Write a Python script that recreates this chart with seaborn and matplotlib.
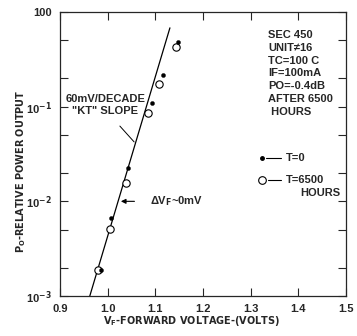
"""
plot.py
-------
Relative power output vs forward voltage (SEC 450, unit 16), before and after 6500 h.
"""

import matplotlib
matplotlib.use("Agg")
import matplotlib.pyplot as plt
import matplotlib.ticker as mticker
import pandas as pd
import seaborn as sns

sns.set_style("ticks")
plt.rcParams["font.family"] = ["Liberation Sans", "DejaVu Sans"]
plt.rcParams["font.weight"] = "bold"
plt.rcParams["mathtext.default"] = "bf"

# ── Data ──────────────────────────────────────────────────
vf_t0 = [0.985, 1.008, 1.042, 1.092, 1.117, 1.147]
po_t0 = [0.0019, 0.0067, 0.0224, 0.109, 0.216, 0.48]

vf_6500 = [0.979, 1.004, 1.0375, 1.085, 1.108, 1.144]
po_6500 = [0.0019, 0.0051, 0.0156, 0.086, 0.174, 0.43]

# 60 mV/decade "kT" slope line end points
slope_vf = [0.9625, 1.1306]
slope_po = [0.001, 0.68]

x_ticks = [0.9, 1.0, 1.1, 1.2, 1.3, 1.4, 1.5]
y_ticks = [1e-3, 1e-2, 1e-1, 1]
y_tick_labels = ["10$^{-3}$", "10$^{-2}$", "10$^{-1}$", "100"]

info_lines = ["SEC 450", "UNIT\u226016", "TC=100 C", "IF=100mA",
              "PO=-0.4dB", "AFTER 6500", " HOURS"]

t0 = pd.DataFrame({"vf": vf_t0, "po": po_t0})
t6500 = pd.DataFrame({"vf": vf_6500, "po": po_6500})
slope = pd.DataFrame({"vf": slope_vf, "po": slope_po})

# ── Figure ────────────────────────────────────────────────
W, H = 357, 336
fig = plt.figure(figsize=(W / 100, H / 100), dpi=100)
ax = fig.add_axes([60 / W, 1 - 296 / H, 286 / W, 284 / H])


def px(x, y):
    return x / W, 1 - y / H


sns.lineplot(data=slope, x="vf", y="po", ax=ax, color="black", lw=0.9)
sns.scatterplot(data=t6500, x="vf", y="po", ax=ax, marker="o", s=28,
                facecolor="white", edgecolor="black", linewidth=0.8, zorder=3)
sns.scatterplot(data=t0, x="vf", y="po", ax=ax, marker="o", s=9,
                color="black", edgecolor="black", zorder=4)

ax.set_yscale("log")
ax.set_xlim(0.9, 1.5)
ax.set_ylim(1e-3, 1)
ax.set_xticks(x_ticks)
ax.set_xticklabels([f"{v:.1f}" for v in x_ticks])
ax.set_yticks(y_ticks)
ax.set_yticklabels(y_tick_labels)
ax.yaxis.set_minor_locator(mticker.LogLocator(base=10, subs=[2, 5]))
ax.yaxis.set_minor_formatter(mticker.NullFormatter())
ax.tick_params(which="both", direction="in", top=True, right=True,
               labelsize=8, pad=6)
ax.tick_params(which="major", length=6, width=0.8)
ax.tick_params(which="minor", length=6, width=0.8)
for s in ax.spines.values():
    s.set_linewidth(0.9)

ax.set_xlabel("")
ax.set_ylabel("")
cond = ["Liberation Sans Narrow", "DejaVu Sans"]
fig.text(*px(192, 321), "V$_F$-FORWARD VOLTAGE-(VOLTS)", ha="center",
         va="center", fontsize=7, family=cond, fontweight="bold")
fig.text(*px(21, 171), "P$_O$-RELATIVE POWER OUTPUT", ha="center",
         va="center", rotation=90, fontsize=7, family=cond, fontweight="bold")

# ── Annotations ───────────────────────────────────────────
fig.text(*px(106, 99), "60mV/DECADE", ha="center", va="center", fontsize=8)
fig.text(*px(105, 111), '"KT" SLOPE', ha="center", va="center", fontsize=8)
ax.annotate("", xy=px(136, 144), xytext=px(118, 124),
            xycoords="figure fraction", textcoords="figure fraction",
            arrowprops=dict(arrowstyle="-", lw=0.7, color="black"))

ax.annotate("", xy=(1.0219, 0.01), xytext=(1.062, 0.01),
            arrowprops=dict(arrowstyle="-|>", lw=0.8, color="black",
                            mutation_scale=7))
ax.text(1.089, 0.01, "\u0394V$_F$~0mV", ha="left", va="center", fontsize=8)

for i, line in enumerate(info_lines):
    fig.text(*px(268, 35 + 12.8 * i), line, ha="left", va="center", fontsize=8)

# legend drawn by hand
fig.lines.append(plt.Line2D([262 / W], [1 - 158 / H], marker="o", ms=2.5,
                            color="black", transform=fig.transFigure))
fig.lines.append(plt.Line2D([266 / W, 281 / W], [1 - 158 / H] * 2, lw=0.8,
                            color="black", transform=fig.transFigure))
fig.text(*px(286, 158), "T=0", ha="left", va="center", fontsize=8)

fig.lines.append(plt.Line2D([262 / W], [1 - 180 / H], marker="o", ms=5.5,
                            mfc="white", mec="black", mew=0.8,
                            transform=fig.transFigure))
fig.lines.append(plt.Line2D([268 / W, 281 / W], [1 - 180 / H] * 2, lw=0.8,
                            color="black", transform=fig.transFigure))
fig.text(*px(286, 180), "T=6500", ha="left", va="center", fontsize=8)
fig.text(*px(300, 193), "HOURS", ha="left", va="center", fontsize=8)

plt.savefig("out.png", dpi=100)
plt.close()
